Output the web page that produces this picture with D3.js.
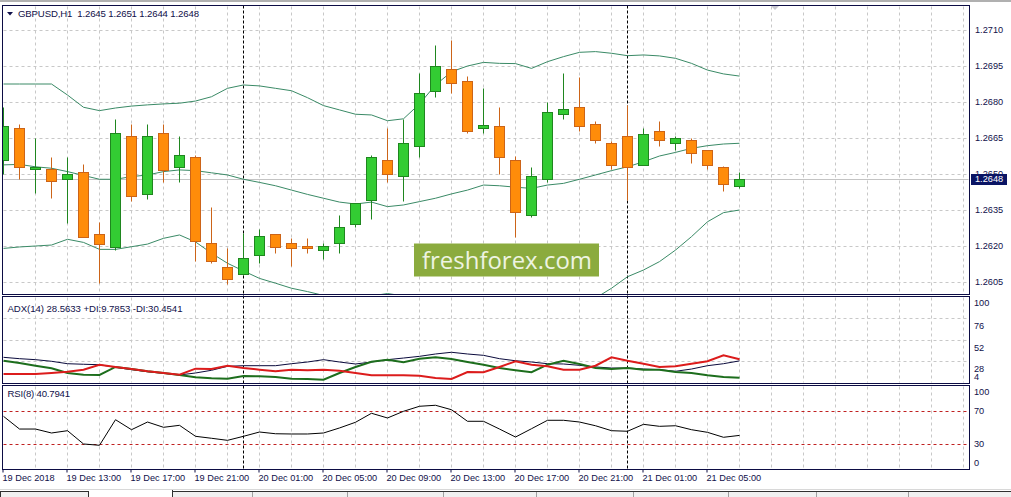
<!DOCTYPE html>
<html><head><meta charset="utf-8">
<script src="https://cdn.jsdelivr.net/npm/d3@7"></script>
<style>
html,body{margin:0;padding:0;background:#fff;overflow:hidden;}
svg{display:block;}
</style></head><body>
<svg id="c" width="1011" height="497"></svg>
<script>
// ---------------- DATA ----------------
const symbol = "GBPUSD,H1";
const lastOHLC = [1.2645, 1.2651, 1.2644, 1.2648];
const timeTickIndex = [0, 4, 8, 12, 16, 20, 24, 28, 32, 36, 40, 44];
const timeLabels = ["19 Dec 2018","19 Dec 13:00","19 Dec 17:00","19 Dec 21:00","20 Dec 01:00","20 Dec 05:00",
  "20 Dec 09:00","20 Dec 13:00","20 Dec 17:00","20 Dec 21:00","21 Dec 01:00","21 Dec 05:00"];
const daySeparatorIndex = [15, 39];

const opens  = [1.26558,1.26690,1.26520,1.26520,1.26478,1.26507,1.26249,1.26197,1.26658,1.26418,
  1.26670,1.26528,1.26571,1.26211,1.26111,1.26082,1.26161,1.26249,1.26211,1.26199,
  1.26182,1.26211,1.26290,1.26390,1.26557,1.26490,1.26618,1.26847,1.26936,1.26886,
  1.26690,1.26699,1.26557,1.26328,1.26478,1.26749,1.26778,1.26707,1.26628,1.26657,
  1.26539,1.26678,1.26628,1.26640,1.26599,1.26529,1.2645];
const highs  = [1.26779,1.26708,1.26651,1.26572,1.26572,1.26542,1.26301,1.26729,1.26707,1.26707,
  1.26707,1.26658,1.26579,1.26361,1.26190,1.26253,1.26271,1.26252,1.26232,1.26232,
  1.26211,1.26329,1.26380,1.26579,1.26690,1.26729,1.26920,1.27038,1.27058,1.26908,
  1.26857,1.26778,1.26576,1.26529,1.26800,1.26920,1.26905,1.26720,1.26639,1.26786,
  1.26690,1.26721,1.26658,1.26649,1.26602,1.26532,1.2651];
const lows   = [1.26500,1.26478,1.26420,1.26399,1.26297,1.26236,1.26045,1.26183,1.26388,1.26397,
  1.26468,1.26468,1.26139,1.26130,1.26040,1.26078,1.26130,1.26170,1.26118,1.26170,
  1.26145,1.26170,1.26278,1.26311,1.26468,1.26389,1.26570,1.26820,1.26836,1.26670,
  1.26670,1.26499,1.26239,1.26320,1.26468,1.26728,1.26678,1.26628,1.26520,1.26390,
  1.26536,1.26618,1.26599,1.26547,1.26520,1.26428,1.2644];
const closes = [1.26700,1.26528,1.26529,1.26470,1.26499,1.26239,1.26210,1.26670,1.26410,1.26658,
  1.26518,1.26578,1.26220,1.26139,1.26061,1.26149,1.26240,1.26197,1.26190,1.26190,
  1.26199,1.26278,1.26378,1.26571,1.26499,1.26628,1.26836,1.26949,1.26878,1.26678,
  1.26705,1.26570,1.26340,1.26490,1.26757,1.26770,1.26699,1.26640,1.26539,1.26528,
  1.26668,1.26640,1.26649,1.26589,1.26539,1.26460,1.2648];

const bandUpper  = [1.26875,1.26875,1.26875,1.26875,1.26829,1.26778,1.26764,1.26775,1.26783,1.26788,
  1.26792,1.26795,1.26804,1.26822,1.26857,1.26871,1.26867,1.26857,1.26847,1.26818,
  1.26785,1.26767,1.26749,1.26746,1.26722,1.26730,1.26792,1.26871,1.26926,1.26950,
  1.26965,1.26961,1.26960,1.26940,1.26968,1.26989,1.27007,1.27010,1.27003,1.26993,
  1.26996,1.26992,1.26982,1.26961,1.26933,1.26917,1.26908];
const bandMiddle = [1.26538,1.26540,1.26530,1.26524,1.26510,1.26494,1.26478,1.26478,1.26489,1.26496,
  1.26510,1.26517,1.26514,1.26505,1.26496,1.26478,1.26465,1.26451,1.26433,1.26415,
  1.26399,1.26383,1.26375,1.26383,1.26364,1.26371,1.26385,1.26399,1.26417,1.26433,
  1.26454,1.26451,1.26445,1.26440,1.26454,1.26461,1.26478,1.26496,1.26514,1.26530,
  1.26551,1.26575,1.26590,1.26607,1.26618,1.26625,1.26628];
const bandLower  = [1.26190,1.26196,1.26200,1.26204,1.26228,1.26215,1.26186,1.26186,1.26197,1.26208,
  1.26232,1.26246,1.26217,1.26170,1.26128,1.26096,1.26065,1.26045,1.26024,1.26010,
  1.25994,1.25988,1.25988,1.25992,1.26002,1.25992,1.25975,1.25929,1.25908,1.25917,
  1.25942,1.25942,1.25929,1.25942,1.25942,1.25933,1.25950,1.25983,1.26024,1.26072,
  1.26100,1.26135,1.26183,1.26239,1.26301,1.26339,1.26350];

const adxMain = [32.5,31.0,29.9,28.1,25.4,24.8,24.3,21.4,18.8,16.5,
  14.8,12.9,15.1,18.1,22.5,23.2,23.2,23.2,25.4,27.3,
  29.9,27.3,25.1,27.3,29.9,31.7,33.6,36.2,38.1,36.2,
  34.7,31.0,28.7,27.3,25.4,25.1,23.6,21.8,20.6,20.6,
  19.5,18.8,17.0,19.5,23.2,25.4,28.5633];
const plusDI = [28.7,26.2,23.2,20.3,15.1,13.2,12.9,21.8,19.5,17.0,
  15.1,12.9,10.3,9.2,8.8,11.8,11.4,10.7,8.8,8.4,
  7.7,15.1,21.8,27.6,29.9,27.0,31.0,32.5,30.6,27.3,
  24.3,20.6,18.1,15.9,24.3,28.7,25.1,20.6,19.5,20.6,
  18.8,18.8,16.2,15.1,12.5,10.7,9.7853];
const minusDI = [14.0,14.0,14.0,15.1,16.5,18.8,24.3,21.8,19.5,17.0,
  15.1,13.2,19.9,19.5,23.2,20.6,18.8,17.0,18.8,18.1,
  18.8,17.7,15.1,12.7,12.5,12.5,12.1,9.5,8.4,16.2,
  15.9,21.8,28.1,24.3,22.5,18.8,18.8,23.2,32.5,28.7,
  25.4,21.8,22.5,25.4,28.1,34.7,30.4541];
const rsiValues = [63.9,48.5,48.5,43.7,46.5,30.4,28.8,59.8,47.7,57.0,
  50.6,53.0,39.7,37.3,34.8,39.7,44.9,42.8,42.5,42.5,
  43.7,49.8,56.7,67.6,61.9,70.0,76.1,77.3,71.9,57.9,
  57.9,48.5,38.8,48.9,59.1,59.1,57.0,52.5,46.5,45.8,
  54.2,51.8,52.5,47.7,44.5,38.5,40.7941];

const priceTicks = [1.2605,1.2620,1.2635,1.2650,1.2665,1.2680,1.2695,1.2710];
const adxTicks = [100,76,52,28,4];
const adxGridLevels = [76,52,28];
const rsiTicks = [100,70,30,0];
const rsiLevels = [70,30];
const adxTitle = "ADX(14) 28.5633 +DI:9.7853 -DI:30.4541";
const rsiTitle = "RSI(8) 40.7941";
const watermark = "freshforex.com";

// ---------------- LAYOUT / STYLE ----------------
const svg = d3.select("#c");
const uiFont = "'Liberation Sans', Arial, sans-serif";
const navy = "#10104a";
const frameColor = "#0c0c44";
const gridColor = "#c8c8c8";
const Lx = 2.5, Rx = 969.5;
const P = {
  main: {top: 5.5, bottom: 294.5},
  adx:  {top: 296.5, bottom: 383.5},
  rsi:  {top: 385.5, bottom: 469.5}
};
const n = closes.length;
const x  = d3.scaleLinear().domain([0, 46]).range([3.5, 739.5]);
const yP = d3.scaleLinear().domain([1.2605, 1.2710]).range([282, 30]);
const yA = d3.scaleLinear().domain([4, 100]).range([383, 296.5]);
const yR = d3.scaleLinear().domain([0, 100]).range([469.05, 386.55]);
const hy = v => Math.round(v) + 0.5;
const titleSize = 9.6;
const axisSize = 9.2;

// window chrome top strip
svg.append("rect").attr("x",0).attr("y",0).attr("width",1011).attr("height",2).attr("fill","#b0b0b0");

// clip paths
const defs = svg.append("defs");
Object.entries(P).forEach(([k,p]) => {
  defs.append("clipPath").attr("id","clip-"+k).append("rect")
    .attr("x", 3).attr("y", p.top + 0.5).attr("width", Rx - 3.5).attr("height", p.bottom - p.top - 1);
});

// vertical grid (every 2 bars) in all panels
const gridIdx = d3.range(2, 61, 2);
Object.values(P).forEach(p => {
  svg.append("g").selectAll("line").data(gridIdx).join("line")
    .attr("x1", d => Math.floor(x(d)) + 0.5).attr("x2", d => Math.floor(x(d)) + 0.5)
    .attr("y1", p.top + 1).attr("y2", p.bottom - 1)
    .attr("stroke", gridColor).attr("stroke-dasharray", "3,3").attr("stroke-width", 1);
});
// horizontal price grid
svg.append("g").selectAll("line").data(priceTicks).join("line")
  .attr("x1", Lx + 1).attr("x2", Rx - 1)
  .attr("y1", d => hy(yP(d))).attr("y2", d => hy(yP(d)))
  .attr("stroke", gridColor).attr("stroke-dasharray", "3,3");
// ADX grid
svg.append("g").selectAll("line").data(adxGridLevels).join("line")
  .attr("x1", Lx + 1).attr("x2", Rx - 1)
  .attr("y1", d => hy(yA(d))).attr("y2", d => hy(yA(d)))
  .attr("stroke", gridColor).attr("stroke-dasharray", "3,3");
// RSI levels
svg.append("g").selectAll("line").data(rsiLevels).join("line")
  .attr("x1", Lx + 1).attr("x2", Rx - 1)
  .attr("y1", d => hy(yR(d))).attr("y2", d => hy(yR(d)))
  .attr("stroke", "#c02020").attr("stroke-dasharray", "3,3");

// current price line
svg.append("line").attr("x1", Lx + 1).attr("x2", Rx - 1)
  .attr("y1", hy(yP(lastOHLC[3]))).attr("y2", hy(yP(lastOHLC[3])))
  .attr("stroke", "#c4c4c4");

// day separators
svg.append("g").selectAll("line").data(daySeparatorIndex).join("line")
  .attr("x1", d => Math.floor(x(d)) + 0.5).attr("x2", d => Math.floor(x(d)) + 0.5)
  .attr("y1", P.main.top).attr("y2", P.rsi.bottom)
  .attr("stroke", "#000").attr("stroke-dasharray", "3,2");

// Bollinger bands
const gMain = svg.append("g").attr("clip-path", "url(#clip-main)");
[bandUpper, bandMiddle, bandLower].forEach(arr => {
  gMain.append("path").datum(arr)
    .attr("d", d3.line().x((d,i) => x(i)).y(d => yP(d)))
    .attr("fill", "none").attr("stroke", "#3a8a66").attr("stroke-width", 1);
});

// candles
const candles = gMain.append("g").selectAll("g").data(d3.range(n)).join("g");
candles.each(function(i){
  const g = d3.select(this);
  const bull = closes[i] >= opens[i];
  const stroke = bull ? "#1f861f" : "#cc6418";
  const fill = bull ? "#33cc33" : "#ff8c0a";
  const p = Math.floor(x(i));
  g.append("line").attr("x1", p + 0.5).attr("x2", p + 0.5)
    .attr("y1", hy(yP(highs[i]))).attr("y2", hy(yP(lows[i])))
    .attr("stroke", stroke);
  const top = hy(yP(Math.max(opens[i], closes[i])));
  const bot = hy(yP(Math.min(opens[i], closes[i])));
  g.append("rect").attr("x", p - 4.5).attr("y", top).attr("width", 10).attr("height", Math.max(0, bot - top))
    .attr("fill", fill).attr("stroke", stroke);
});

// watermark
svg.append("rect").attr("x", 414).attr("y", 243.5).attr("width", 185).attr("height", 33).attr("fill", "#8bab3e");
svg.append("text").attr("x", 422).attr("y", 269.3).text(watermark)
  .style("font-family", "'Open Sans', sans-serif").style("font-size", "24px")
  .attr("textLength", 170).attr("lengthAdjust", "spacingAndGlyphs")
  .attr("fill", "#eef4e2");

// ADX lines
const gAdx = svg.append("g").attr("clip-path", "url(#clip-adx)");
const adxLine = d3.line().x((d,i) => x(i)).y(d => yA(d));
gAdx.append("path").datum(adxMain).attr("d", adxLine).attr("fill","none").attr("stroke","#0a0a3c").attr("stroke-width",1);
gAdx.append("path").datum(plusDI).attr("d", adxLine).attr("fill","none").attr("stroke","#1d6e1d").attr("stroke-width",2);
gAdx.append("path").datum(minusDI).attr("d", adxLine).attr("fill","none").attr("stroke","#dc1c1c").attr("stroke-width",2);

// RSI line
const gRsi = svg.append("g").attr("clip-path", "url(#clip-rsi)");
gRsi.append("path").datum(rsiValues).attr("d", d3.line().x((d,i) => x(i)).y(d => yR(d)))
  .attr("fill","none").attr("stroke","#000").attr("stroke-width",1);

// frames
Object.values(P).forEach(p => {
  svg.append("rect").attr("x", Lx).attr("y", p.top).attr("width", Rx - Lx).attr("height", p.bottom - p.top)
    .attr("fill", "none").attr("stroke", frameColor).attr("stroke-width", 1);
});

// chart shift marker
svg.append("path").attr("d", "M771,6 L779,6 L775,10 Z").attr("fill", "#c8c8d0");

// titles
const label = (sel, size) => sel.style("font-family", uiFont).style("font-size", size + "px").attr("fill", navy);
svg.append("path").attr("d", "M7,12 L13,12 L10,15.5 Z").attr("fill", navy);
svg.append("text").attr("x", 18).attr("y", 17).call(label, titleSize)
  .style("white-space", "pre").attr("textLength", 181).attr("lengthAdjust", "spacing")
  .text(symbol + "  " + lastOHLC.map(d => d.toFixed(4)).join(" "));
svg.append("text").attr("x", 7.5).attr("y", 311.5).call(label, titleSize)
  .attr("textLength", 175).attr("lengthAdjust", "spacing").text(adxTitle);
svg.append("text").attr("x", 7.5).attr("y", 397).call(label, titleSize)
  .attr("textLength", 62.5).attr("lengthAdjust", "spacing").text(rsiTitle);

// axes
const styleAxis = g => {
  g.select(".domain").remove();
  g.selectAll("text").call(label, axisSize);
  g.selectAll(".tick line").attr("stroke", frameColor);
};
svg.append("g").attr("transform", "translate(970,0)")
  .call(d3.axisRight(yP).tickValues(priceTicks).tickFormat(d3.format(".4f")).tickSize(0).tickPadding(5).offset(0))
  .call(styleAxis);
// current price label
svg.append("rect").attr("x", 971).attr("y", 174).attr("width", 36).attr("height", 11).attr("fill", "#0a1464");
svg.append("text").attr("x", 975).attr("y", yP(lastOHLC[3])).attr("dy", "0.35em")
  .call(label, axisSize).attr("fill", "#fff").text(lastOHLC[3].toFixed(4));

// ADX axis (labels hang below their level, bottom one above)
svg.append("g").attr("transform", "translate(970,0)")
  .call(d3.axisRight(yA).tickValues(adxTicks).tickSize(0).tickPadding(4).offset(0))
  .call(styleAxis)
  .call(g => g.selectAll("text").attr("dy", d => d === 100 ? "0.99em" : d === 4 ? "-0.35em" : "1.2em"));

// RSI axis
svg.append("g").attr("transform", "translate(970,0)")
  .call(d3.axisRight(yR).tickValues(rsiTicks).tickSize(0).tickPadding(4).offset(0))
  .call(styleAxis)
  .call(g => g.selectAll("text").attr("dy", d => d === 100 ? "0.9em" : d === 0 ? "-0.38em" : "0.32em"));

// time axis
svg.append("g").attr("transform", "translate(0," + P.rsi.bottom + ")")
  .call(d3.axisBottom(x).tickValues(timeTickIndex).tickFormat((d,i) => timeLabels[i]).tickSize(3).offset(0))
  .call(styleAxis)
  .call(g => g.selectAll(".tick line").attr("transform", "translate(-0.5,0)"))
  .call(g => g.selectAll("text").attr("text-anchor", "start").attr("x", -1).attr("y", 4.5).attr("dy", "0.71em"));

// bottom tab bar
svg.append("line").attr("x1",0).attr("x2",1011).attr("y1",489.5).attr("y2",489.5).attr("stroke","#d8d8d8");
svg.append("rect").attr("x",172).attr("y",491.5).attr("width",839).attr("height",6).attr("fill","#f0f0f0");
svg.append("line").attr("x1",172).attr("x2",1011).attr("y1",491.5).attr("y2",491.5).attr("stroke","#303030");
svg.append("rect").attr("x",0.5).attr("y",491.5).attr("width",88).attr("height",6).attr("fill","#f0f0f0").attr("stroke","#303030");
svg.append("line").attr("x1",172.5).attr("x2",172.5).attr("y1",490).attr("y2",497).attr("stroke","#303030");
[252, 347, 443, 536, 633, 728, 816, 908].forEach(v => {
  svg.append("line").attr("x1", v + 0.5).attr("x2", v + 0.5).attr("y1", 492).attr("y2", 497).attr("stroke", "#a0a0a0");
});
</script>
</body></html>
